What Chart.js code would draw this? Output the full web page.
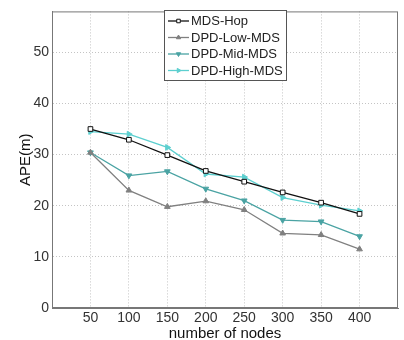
<!DOCTYPE html>
<html>
<head>
<meta charset="utf-8">
<script src="https://cdn.jsdelivr.net/npm/chart.js@4/dist/chart.umd.min.js"></script>
<style>
  html, body { margin: 0; padding: 0; background: #fff; }
  #wrap { width: 404px; height: 340px; }
</style>
</head>
<body>
<div id="wrap"><canvas id="chart1"></canvas></div>
<script>
// data
var nodes = [50, 100, 150, 200, 250, 300, 350, 400]
var mdsHop = [35.0, 32.9, 29.9, 26.8, 24.7, 22.6, 20.6, 18.4]
var dpdLow = [30.4, 23.0, 19.8, 20.9, 19.2, 14.6, 14.3, 11.5]
var dpdMid = [30.4, 25.9, 26.7, 23.3, 21.0, 17.2, 16.9, 14.0]
var dpdHigh = [34.5, 34.0, 31.4, 26.2, 25.6, 21.6, 20.1, 19.0]
var yTicks = [0, 10, 20, 30, 40, 50]

var font = "'Liberation Sans', Arial, sans-serif"

function pts(arr){
  return arr.map((v, i) => ({x: nodes[i], y: v}))
}

function series(label, arr, color, style, rot, fill){
  return {
    label: label,
    data: pts(arr),
    borderColor: color,
    backgroundColor: fill,
    borderWidth: 1.3,
    pointStyle: style,
    rotation: rot,
    pointRadius: 3.3,
    pointBorderWidth: 1,
    pointBorderColor: color,
    pointBackgroundColor: fill,
    tension: 0
  }
}

// legend box drawn inside the plot, plus the frame
const boxPlugin = {
  id: 'boxPlugin',
  afterDraw(chart){
    const ctx = chart.ctx
    const a = chart.chartArea
    ctx.save()
    ctx.strokeStyle = '#777'
    ctx.lineWidth = 1
    ctx.strokeRect(a.left + 0.5, a.top + 0.5, a.right - a.left - 1, a.bottom - a.top - 1)

    var bx = 164, by = 10, bw = 122, bh = 70
    ctx.fillStyle = '#fff'
    ctx.fillRect(bx, by, bw, bh)
    ctx.strokeStyle = '#555'
    ctx.strokeRect(bx + 0.5, by + 0.5, bw, bh)
    ctx.font = '13px ' + font
    ctx.textBaseline = 'middle'
    chart.data.datasets.forEach((ds, i) => {
      var y = 21 + i * 16.5
      ctx.strokeStyle = ds.borderColor
      ctx.lineWidth = 1.3
      ctx.beginPath()
      ctx.moveTo(168, y)
      ctx.lineTo(189, y)
      ctx.stroke()
      ctx.save()
      ctx.lineWidth = 1
      ctx.fillStyle = ds.pointBackgroundColor
      ctx.strokeStyle = ds.borderColor
      Chart.helpers.drawPoint(ctx, {pointStyle: ds.pointStyle, rotation: ds.rotation, radius: 2.5, borderWidth: 1}, 178.5, y)
      ctx.restore()
      ctx.fillStyle = '#222'
      ctx.fillText(ds.label, 191, y + 0.5)
    })
    ctx.restore()
  }
}

const ctx = document.getElementById('chart1').getContext('2d')
const chart1 = new Chart(ctx, {
  type: 'line',
  data: {
    datasets: [
      series('MDS-Hop', mdsHop, '#111111', 'rect', 0, '#ffffff'),
      series('DPD-Low-MDS', dpdLow, '#808080', 'triangle', 0, '#808080'),
      series('DPD-Mid-MDS', dpdMid, '#4aa3a3', 'triangle', 180, '#4aa3a3'),
      series('DPD-High-MDS', dpdHigh, '#5ccfcf', 'triangle', 90, '#5ccfcf')
    ]
  },
  options: {
    responsive: true,
    maintainAspectRatio: false,
    animation: false,
    layout: { padding: { top: 6, right: 6, left: 0, bottom: 0 } },
    plugins: {
      legend: { display: false },
      tooltip: { enabled: false }
    },
    scales: {
      x: {
        type: 'linear',
        min: 0,
        max: 450,
        afterBuildTicks: s => { s.ticks = nodes.map(v => ({value: v})) },
        afterFit: s => { s.height = 32 },
        grid: { color: '#c4c4c4', lineWidth: 1, drawTicks: false },
        border: { display: true, color: '#777', dash: [1, 2] },
        ticks: { color: '#333', font: { family: font, size: 14 }, padding: 2, maxRotation: 0 },
        title: { display: true, text: 'number of nodes', color: '#111', font: { family: font, size: 15 }, padding: { top: 0, bottom: -3 } }
      },
      y: {
        min: 0,
        max: 58,
        afterBuildTicks: s => { s.ticks = yTicks.map(v => ({value: v})) },
        afterFit: s => { s.width = 52 },
        grid: { color: '#c4c4c4', lineWidth: 1, drawTicks: false },
        border: { display: true, color: '#777', dash: [1, 2] },
        ticks: { color: '#333', font: { family: font, size: 14 }, padding: 3 },
        title: { display: true, text: 'APE(m)', color: '#111', font: { family: font, size: 15 }, padding: { top: 17, bottom: 0 } }
      }
    }
  },
  plugins: [boxPlugin]
})
</script>
</body>
</html>
